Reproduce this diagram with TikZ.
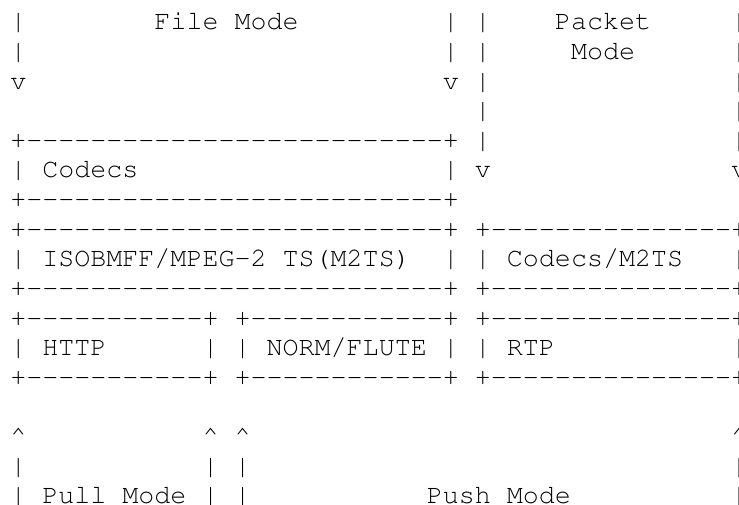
\documentclass[tikz,border=0pt]{standalone}
\begin{document}
% character grid: 16.02pt per column, 29.6pt per row, baseline of row 0 at y=474
\newcommand\cell[4]{\node[ascii] (#1) at ({10.3+16.02*#2},{474-29.6*#3}) {#4};}
% a run of hyphens, each in its own group so no ligature forms
\newcommand\dashrun[1]{\foreach \k in {1,...,#1}{-}}
\newcommand\edgeline[1]{+\dashrun{#1}+}
\begin{tikzpicture}[x=1pt,y=1pt,
  ascii/.style={anchor=base west, inner sep=0pt, outer sep=0pt,
    font=\fontencoding{T1}\fontfamily{pcr}\fontsize{26.7pt}{29.6pt}\selectfont}]
\fill[white] (0,0) rectangle (739,504);
\useasboundingbox (0,0) rectangle (739,504);
\begin{scope}
\clip (0,0) rectangle (739,504);
% row 0
\cell{a0}{0}{0}{|}
\cell{fileMode}{9}{0}{File Mode}
\cell{b0}{27}{0}{|}
\cell{c0}{29}{0}{|}
\cell{packetA}{34}{0}{Packet}
\cell{d0}{45}{0}{|}
% row 1
\cell{a1}{0}{1}{|}
\cell{b1}{27}{1}{|}
\cell{c1}{29}{1}{|}
\cell{packetB}{35}{1}{Mode}
\cell{d1}{45}{1}{|}
% row 2
\cell{a2}{0}{2}{v}
\cell{b2}{27}{2}{v}
\cell{c2}{29}{2}{|}
\cell{d2}{45}{2}{|}
% row 3
\cell{c3}{29}{3}{|}
\cell{d3}{45}{3}{|}
% row 4
\cell{codecsTop}{0}{4}{\edgeline{26}}
\cell{c4}{29}{4}{|}
\cell{d4}{45}{4}{|}
% row 5
\cell{a5}{0}{5}{|}
\cell{codecs}{2}{5}{Codecs}
\cell{b5}{27}{5}{|}
\cell{c5}{29}{5}{v}
\cell{d5}{45}{5}{v}
% row 6
\cell{codecsBot}{0}{6}{\edgeline{26}}
% row 7
\cell{isoTop}{0}{7}{\edgeline{26}}
\cell{m2tsTop}{29}{7}{\edgeline{15}}
% row 8
\cell{a8}{0}{8}{|}
\cell{iso}{2}{8}{ISOBMFF/MPEG-2 TS(M2TS)}
\cell{b8}{27}{8}{|}
\cell{c8}{29}{8}{|}
\cell{m2ts}{31}{8}{Codecs/M2TS}
\cell{d8}{45}{8}{|}
% row 9
\cell{isoBot}{0}{9}{\edgeline{26}}
\cell{m2tsBot}{29}{9}{\edgeline{15}}
% row 10
\cell{httpTop}{0}{10}{\edgeline{11}}
\cell{normTop}{14}{10}{\edgeline{12}}
\cell{rtpTop}{29}{10}{\edgeline{15}}
% row 11
\cell{a11}{0}{11}{|}
\cell{http}{2}{11}{HTTP}
\cell{e11}{12}{11}{|}
\cell{f11}{14}{11}{|}
\cell{norm}{16}{11}{NORM/FLUTE}
\cell{b11}{27}{11}{|}
\cell{c11}{29}{11}{|}
\cell{rtp}{31}{11}{RTP}
\cell{d11}{45}{11}{|}
% row 12
\cell{httpBot}{0}{12}{\edgeline{11}}
\cell{normBot}{14}{12}{\edgeline{12}}
\cell{rtpBot}{29}{12}{\edgeline{15}}
% row 14
\cell{a14}{0}{14}{\textasciicircum}
\cell{e14}{12}{14}{\textasciicircum}
\cell{f14}{14}{14}{\textasciicircum}
\cell{d14}{45}{14}{\textasciicircum}
% row 15
\cell{a15}{0}{15}{|}
\cell{e15}{12}{15}{|}
\cell{f15}{14}{15}{|}
\cell{d15}{45}{15}{|}
% row 16
\cell{a16}{0}{16}{|}
\cell{pull}{2}{16}{Pull Mode}
\cell{e16}{12}{16}{|}
\cell{f16}{14}{16}{|}
\cell{push}{26}{16}{Push Mode}
\cell{d16}{45}{16}{|}
\end{scope}
\end{tikzpicture}
\end{document}
